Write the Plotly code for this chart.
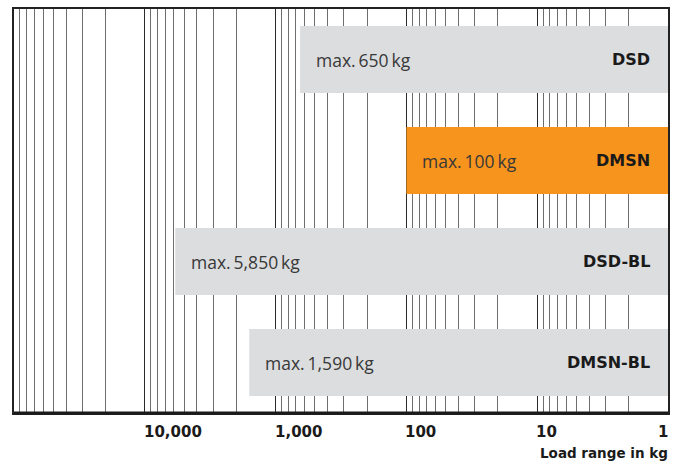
import math
import plotly.graph_objects as go

products = ["DSD", "DMSN", "DSD-BL", "DMSN-BL"]
max_load = [650, 100, 5850, 1590]
load_labels = ["max.\u2009650\u2009kg", "max.\u2009100\u2009kg", "max.\u20095,850\u2009kg", "max.\u20091,590\u2009kg"]
bar_colors = ["#dcdddf", "#f7941d", "#dcdddf", "#dcdddf"]
tick_values = [10000, 1000, 100, 10, 1]
tick_labels = ["10,000", "1,000", "100", "10", "1"]
min_load = 1
axis_max = 100000

fig = go.Figure()
fig.add_trace(go.Bar(
    y=products,
    x=[v - min_load for v in max_load],
    base=[min_load] * len(products),
    orientation="h",
    marker=dict(color=bar_colors, line=dict(width=0)),
    width=0.665,
    hoverinfo="skip",
))

annotations = []
for p, v, lab in zip(products, max_load, load_labels):
    annotations.append(dict(x=math.log10(v), y=p, xref="x", yref="y", text=lab,
                            showarrow=False, xanchor="left", xshift=14,
                            font=dict(family="Open Sans", size=17.5, color="#383838")))
    annotations.append(dict(x=math.log10(min_load), y=p, xref="x", yref="y", text=p,
                            showarrow=False, xanchor="right", xshift=-16,
                            font=dict(family="DejaVu Sans", size=16, color="#1a1a1a", weight="bold")))
for tv, tl in zip(tick_values, tick_labels):
    annotations.append(dict(x=math.log10(tv), y=0, xref="x", yref="paper", text=tl,
                            showarrow=False, xanchor="right" if tv == min_load else "left",
                            xshift=2 if tv == min_load else -3,
                            yanchor="top", yshift=-8,
                            font=dict(family="DejaVu Sans", size=15, color="#1a1a1a", weight="bold")))
annotations.append(dict(x=1, y=0, xref="paper", yref="paper", text="Load range in kg",
                        showarrow=False, xanchor="right", yanchor="top", yshift=-30, xshift=2,
                        font=dict(family="DejaVu Sans", size=13.5, color="#1a1a1a", weight="bold")))

fig.update_layout(
    width=684, height=463,
    margin=dict(l=14, r=16, t=7, b=50),
    paper_bgcolor="white", plot_bgcolor="white",
    showlegend=False,
    bargap=0.335,
    annotations=annotations,
    shapes=[dict(type="line", xref="paper", yref="paper", x0=0, x1=1, y0=0, y1=0,
                 line=dict(color="#1a1a1a", width=3), layer="above")],
    xaxis=dict(type="log", range=[math.log10(axis_max), math.log10(min_load)],
               dtick=1, showticklabels=False, ticks="",
               showgrid=True, gridcolor="#2a2a2a", gridwidth=1.2,
               minor=dict(dtick="D1", showgrid=True, gridcolor="#6e6e6e", gridwidth=1, ticks=""),
               showline=True, linecolor="#222222", linewidth=1.5, mirror=True,
               zeroline=False, layer="below traces"),
    yaxis=dict(categoryorder="array", categoryarray=products, autorange="reversed",
               showticklabels=False, ticks="", showgrid=False, zeroline=False,
               showline=True, linecolor="#222222", linewidth=1.5, mirror=True),
)

fig.write_html("out.html", config={"displayModeBar": False},
               post_script="document.body.style.margin='0';")
